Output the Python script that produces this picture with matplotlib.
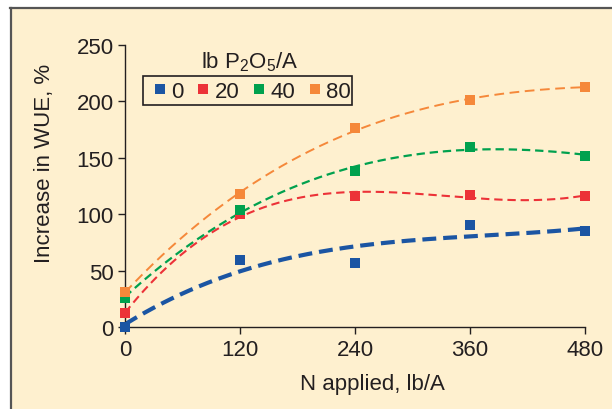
import numpy as np
import matplotlib
matplotlib.use("Agg")
import matplotlib.pyplot as plt
from matplotlib.lines import Line2D
from matplotlib.patches import Rectangle

plt.rcParams['font.family'] = ['Liberation Sans', 'DejaVu Sans']
plt.rcParams['mathtext.fontset'] = 'custom'
plt.rcParams['mathtext.rm'] = 'Liberation Sans'
plt.rcParams['mathtext.it'] = 'Liberation Sans'
plt.rcParams['mathtext.bf'] = 'Liberation Sans'
plt.rcParams['lines.scale_dashes'] = False

n_applied = [0, 120, 240, 360, 480]
series_labels = ['0', '20', '40', '80']
wue_p0 = [0, 59, 57, 90, 85]
wue_p20 = [12, 100, 116, 117, 116]
wue_p40 = [26, 104, 138, 160, 152]
wue_p80 = [31, 118, 176, 201, 213]
x_ticks = [0, 120, 240, 360, 480]
y_ticks = [0, 50, 100, 150, 200, 250]

colors = ['#1b55a3', '#ec3238', '#00a14e', '#f5883a']
widths = [3.0, 1.5, 1.6, 1.4]
dash_styles = [(10, 5), (6, 3.5), (6, 3.5), (7, 4)]
bg = '#fef0cf'
text_c = '#231f20'
fs = 16

W, H = 612, 410
fig = plt.figure(figsize=(W/100, H/100), dpi=100)
fig.patch.set_facecolor('white')
# cream panel with frame on top and left
fig.patches.append(Rectangle((10/W, 0), 1 - 10/W, 1 - 9/H, transform=fig.transFigure,
                             facecolor=bg, edgecolor='none', zorder=-10))
fig.add_artist(Line2D([10.5/W, 10.5/W], [0, 1 - 9/H], transform=fig.transFigure,
                      color='#555555', lw=1.6, zorder=-5))
fig.add_artist(Line2D([10/W, 1], [1 - 9/H, 1 - 9/H], transform=fig.transFigure,
                      color='#555555', lw=1.6, zorder=-5))

ax = fig.add_axes([125/W, 1 - 328/H, (585 - 125)/W, (328 - 46)/H])
ax.set_facecolor('none')
ax.set_zorder(1)

xs = np.linspace(0, 480, 300)
all_series = [wue_p0, wue_p20, wue_p40, wue_p80]
for ys, c, w, d in zip(all_series, colors, widths, dash_styles):
    coef = np.polyfit(n_applied, ys, 3)
    ax.plot(xs, np.polyval(coef, xs), color=c, lw=w, dashes=d, zorder=2, clip_on=False)
for ys, c in zip(all_series, colors):
    ax.plot(n_applied, ys, linestyle='none', marker='s', markersize=6.5, color=c,
            markeredgewidth=0, zorder=3, clip_on=False)

ax.set_xlim(0, 480)
ax.set_ylim(0, 250)
ax.set_xticks(x_ticks)
ax.set_yticks(y_ticks)
ax.tick_params(axis='both', direction='out', length=5, width=1, colors=text_c,
               labelsize=fs)
ax.tick_params(axis='x', pad=4)
ax.tick_params(axis='y', pad=3)
for s in ['top', 'right']:
    ax.spines[s].set_visible(False)
for s in ['left', 'bottom']:
    ax.spines[s].set_color(text_c)
    ax.spines[s].set_linewidth(1)

fig.text(372/W, 1 - 385/H, 'N applied, lb/A', fontsize=fs, color=text_c,
         ha='center', va='center')
fig.text(45/W, 1 - 163/H, 'Increase in WUE, %', fontsize=fs, color=text_c,
         rotation=90, ha='center', va='center')

handles = [Line2D([], [], linestyle='none', marker='s', markersize=6.5, color=c,
                  markeredgewidth=0) for c in colors]
leg = ax.legend(handles, series_labels, ncol=4, loc='center left',
                bbox_to_anchor=(154/W, 1 - 92/H), bbox_transform=fig.transFigure,
                frameon=False, fontsize=fs, handlelength=0.55,
                handletextpad=0.22, columnspacing=0.62, borderpad=0,
                borderaxespad=0)
for t in leg.get_texts():
    t.set_color(text_c)
fig.patches.append(Rectangle((143/W, 1 - 106/H), (352 - 143)/W, (106 - 77)/H,
                             transform=fig.transFigure, facecolor='none',
                             edgecolor=text_c, lw=1.2, zorder=5))

fig.text(250/W, 1 - 62/H, 'lb P$_2$O$_5$/A', fontsize=fs, color=text_c,
         ha='center', va='center')

fig.savefig('out.png', dpi=100, facecolor=fig.get_facecolor())
